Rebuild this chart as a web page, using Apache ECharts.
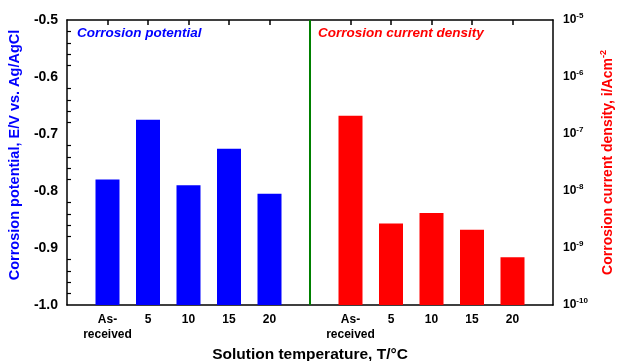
<!DOCTYPE html>
<html>
<head>
<meta charset="utf-8">
<script src="https://cdn.jsdelivr.net/npm/echarts@6/dist/echarts.min.js"></script>
<style>
html, body { margin: 0; padding: 0; background: #fff; }
#chart { width: 619px; height: 361px; }
</style>
</head>
<body>
<div id="chart"></div>
<script>
// data
const categories = ['As-\nreceived', '5', '10', '15', '20'];
const potential = [-0.78, -0.675, -0.79, -0.726, -0.805];          // E/V vs. Ag/AgCl
const currentDensity = [2.1e-7, 2.7e-9, 4.1e-9, 2.1e-9, 6.9e-10];  // i/A cm^-2
const potentialTicks = [-1.0, -0.9, -0.8, -0.7, -0.6, -0.5];
const densityTicks = [1e-10, 1e-9, 1e-8, 1e-7, 1e-6, 1e-5];

// x slots: blank | 5 temps | divider | 5 temps | blank
const slots = [''].concat(categories, [''], categories, ['']);
const blueData = [null].concat(potential, new Array(7).fill(null));
const redData = new Array(7).fill(null).concat(currentDensity, [null]);

// minor ticks of the log axis (2..9 x each decade), in exponent space
const logMinor = [];
densityTicks.slice(0, -1).forEach(d => {
  for (let k = 2; k <= 9; k++) logMinor.push(Math.log10(k * d));
});

const chart = echarts.init(document.getElementById('chart'));
const font = 'Liberation Sans, Arial, sans-serif';

const option = {
  animation: false,
  textStyle: { fontFamily: font },
  grid: { left: 67, right: 66, top: 20, bottom: 56, outerBoundsMode: 'none' },
  xAxis: [
    {
      type: 'category',
      data: slots,
      boundaryGap: false,
      position: 'bottom',
      axisLine: { lineStyle: { color: '#000', width: 1.5 } },
      axisTick: { inside: true, length: 6, interval: i => slots[i] !== '', lineStyle: { color: '#000', width: 1.5 } },
      axisLabel: { interval: 0, margin: 7, color: '#000', fontWeight: 'bold', fontSize: 12, lineHeight: 15 },
      name: 'Solution temperature, T/°C',
      nameLocation: 'middle',
      nameGap: 35,
      nameTextStyle: { color: '#000', fontWeight: 'bold', fontSize: 15.5 }
    },
    {
      type: 'category',
      data: slots,
      boundaryGap: false,
      position: 'top',
      axisLine: { lineStyle: { color: '#000', width: 1.5 } },
      axisTick: { inside: true, length: 5, interval: i => slots[i] !== '', lineStyle: { color: '#000', width: 1.5 } },
      axisLabel: { show: false }
    }
  ],
  yAxis: [
    {
      type: 'value',
      position: 'left',
      min: potentialTicks[0],
      max: potentialTicks[potentialTicks.length - 1],
      interval: 0.1,
      startValue: potentialTicks[0],
      splitLine: { show: false },
      axisLine: { show: true, lineStyle: { color: '#000', width: 1.5 } },
      axisTick: { inside: true, length: 7, lineStyle: { color: '#000', width: 1.5 } },
      minorTick: { show: true, splitNumber: 5, length: 4, lineStyle: { color: '#000', width: 1.2 } },
      axisLabel: { margin: 9, color: '#000', fontWeight: 'bold', fontSize: 14, formatter: v => v.toFixed(1) },
      name: 'Corrosion potential, E/V vs. Ag/AgCl',
      nameLocation: 'middle',
      nameRotate: 90,
      nameGap: 43,
      nameTextStyle: { color: '#0000ff', fontWeight: 'bold', fontSize: 14.5, padding: [0, 0, 0, 15] }
    },
    {
      type: 'log',
      logBase: 10,
      position: 'right',
      min: densityTicks[0],
      max: densityTicks[densityTicks.length - 1],
      startValue: densityTicks[0],
      splitLine: { show: false },
      axisLine: { show: true, lineStyle: { color: '#000', width: 1.5 } },
      axisTick: { inside: true, length: 5, lineStyle: { color: '#000', width: 1.5 } },
      axisLabel: {
        margin: 10,
        color: '#000',
        formatter: v => '{b|10}{s|' + Math.round(Math.log10(v)) + '}',
        rich: {
          b: { fontWeight: 'bold', fontSize: 12, color: '#000' },
          s: { fontWeight: 'bold', fontSize: 8, color: '#000', padding: [0, 0, 8, 0] }
        }
      },
      name: 'Corrosion current density, i/Acm{s|-2}',
      nameLocation: 'middle',
      nameRotate: 90,
      nameGap: 46,
      nameTextStyle: {
        color: '#ff0000', fontWeight: 'bold', fontSize: 14,
        rich: { s: { color: '#ff0000', fontWeight: 'bold', fontSize: 9, padding: [0, 0, 9, 0] } }
      }
    },
    {
      // helper axis that only draws the log minor ticks
      type: 'value',
      position: 'right',
      min: Math.log10(densityTicks[0]),
      max: Math.log10(densityTicks[densityTicks.length - 1]),
      splitLine: { show: false },
      axisLine: { show: false },
      axisLabel: { show: false },
      axisTick: { inside: true, length: 3, customValues: logMinor, lineStyle: { color: '#000', width: 1 } }
    }
  ],
  graphic: [
    {
      type: 'text', left: 77, top: 26,
      style: { text: 'Corrosion potential', fill: '#0000ff', fontStyle: 'italic', fontWeight: 'bold', fontSize: 13.5, fontFamily: font }
    },
    {
      type: 'text', left: 318, top: 26,
      style: { text: 'Corrosion current density', fill: '#ff0000', fontStyle: 'italic', fontWeight: 'bold', fontSize: 13.5, fontFamily: font }
    }
  ],
  series: [
    {
      type: 'bar',
      xAxisIndex: 0,
      yAxisIndex: 0,
      data: blueData,
      barWidth: 24,
      barGap: '-100%',
      itemStyle: { color: '#0000ff' },
      markLine: {
        silent: true,
        symbol: ['none', 'none'],
        label: { show: false },
        lineStyle: { color: '#008000', width: 2, type: 'solid' },
        data: [{ xAxis: 6 }]
      }
    },
    {
      type: 'bar',
      xAxisIndex: 0,
      yAxisIndex: 1,
      data: redData,
      barWidth: 24,
      barGap: '-100%',
      itemStyle: { color: '#ff0000' }
    }
  ]
};

chart.setOption(option);
window.addEventListener('resize', () => chart.resize());
</script>
</body>
</html>
